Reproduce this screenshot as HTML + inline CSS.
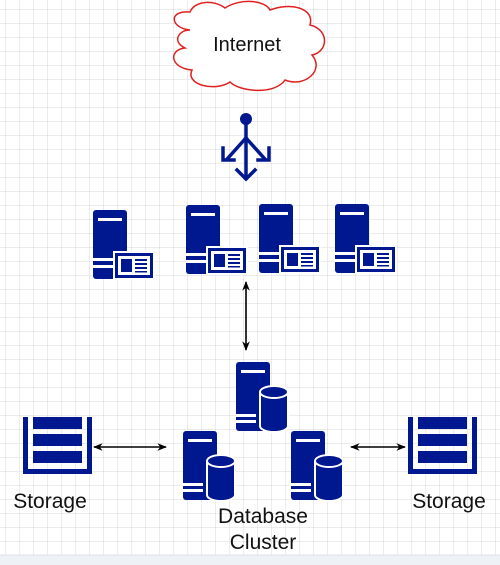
<!DOCTYPE html>
<html><head><style>
html,body{margin:0;padding:0;width:500px;height:565px;overflow:hidden;background:#fff}
svg{display:block}
text{font-family:"Liberation Sans",sans-serif;fill:#111}
</style></head><body>
<svg width="500" height="565" viewBox="0 0 500 565">
<defs>
<pattern id="g" width="14" height="14" patternUnits="userSpaceOnUse" x="6" y="10">
<path d="M14 0V14M0 14H14" fill="none" stroke="#d9d9d9" stroke-width="1"/>
</pattern>
<g id="web">
<rect x="0" y="0" width="34" height="69" rx="3" fill="#00188f"/>
<rect x="5" y="8" width="24" height="3" fill="#fff"/>
<rect x="0" y="48" width="22" height="3" fill="#fff"/>
<rect x="0" y="55" width="22" height="3" fill="#fff"/>
<rect x="20" y="41" width="42" height="29" fill="#fff"/>
<rect x="22" y="43" width="38" height="25" fill="#00188f"/>
<rect x="25" y="46" width="32" height="19" fill="#fff"/>
<rect x="28" y="49" width="11" height="13" fill="#00188f"/>
<rect x="42" y="49" width="12" height="2" fill="#00188f"/>
<rect x="42" y="53" width="12" height="2" fill="#00188f"/>
<rect x="42" y="57" width="12" height="2" fill="#00188f"/>
<rect x="42" y="61" width="12" height="1.5" fill="#00188f"/>
</g>
<g id="db">
<rect x="0" y="0" width="34" height="69" rx="3" fill="#00188f"/>
<rect x="5" y="8" width="24" height="3" fill="#fff"/>
<rect x="0" y="52" width="20" height="3" fill="#fff"/>
<rect x="0" y="58" width="20" height="3" fill="#fff"/>
<path d="M24 30 a14 6 0 0 1 28 0 v34 a14 6 0 0 1 -28 0z" fill="#00188f" stroke="#fff" stroke-width="2"/>
<path d="M24 30 a14 6 0 0 0 28 0" fill="none" stroke="#fff" stroke-width="2"/>
</g>
<g id="stor">
<rect x="0" y="0" width="5" height="57" fill="#00188f"/>
<rect x="64" y="0" width="5" height="57" fill="#00188f"/>
<rect x="0" y="52" width="69" height="5" fill="#00188f"/>
<rect x="10" y="0" width="49" height="12" fill="#00188f"/>
<rect x="10" y="17" width="49" height="12" fill="#00188f"/>
<rect x="10" y="34" width="49" height="12" fill="#00188f"/>
</g>
<marker id="ah" viewBox="0 0 10 10" refX="9" refY="5" markerWidth="6" markerHeight="6" orient="auto-start-reverse">
<path d="M0 1L10 5L0 9L3 5z" fill="#000"/>
</marker>
</defs>
<rect width="500" height="555" fill="url(#g)"/>
<rect y="555" width="500" height="10" fill="#eef2f7"/>
<line x1="0" y1="555" x2="500" y2="555" stroke="#dde3ea"/>
<path d="M190 30 C170 28 168 10 190 12 C195 0 215 0 225 8 C240 -2 265 0 270 10 C290 2 315 8 310 25 C330 30 328 52 312 55 C325 70 305 88 285 80 C275 95 240 92 230 82 C215 92 185 85 192 70 C170 68 168 50 185 48 C172 42 178 30 190 30Z" fill="#fff" stroke="#e02020" stroke-width="1.5"/>
<text x="247" y="51" font-size="20" text-anchor="middle">Internet</text>
<g stroke="#00188f" stroke-width="3.5" fill="none" stroke-linecap="square">
<line x1="246" y1="120" x2="246" y2="178"/>
<path d="M246 138 L228 158 M246 138 L264 158"/>
<path d="M223 148 V160 H234"/>
<path d="M269 148 V160 H258"/>
<path d="M237 170 L246 179 L255 170"/>
</g>
<circle cx="246" cy="119" r="6" fill="#00188f"/>
<use href="#web" x="93" y="210"/>
<use href="#web" x="186" y="205"/>
<use href="#web" x="259" y="204"/>
<use href="#web" x="335" y="204"/>
<line x1="246" y1="282" x2="246" y2="350" stroke="#000" stroke-width="1.6" marker-start="url(#ah)" marker-end="url(#ah)"/>
<use href="#db" x="236" y="362"/>
<use href="#db" x="183" y="431"/>
<use href="#db" x="291" y="431"/>
<use href="#stor" x="23" y="417"/>
<use href="#stor" x="408" y="417"/>
<line x1="94" y1="447" x2="166" y2="447" stroke="#000" stroke-width="1.6" marker-start="url(#ah)" marker-end="url(#ah)"/>
<line x1="351" y1="447" x2="405" y2="447" stroke="#000" stroke-width="1.6" marker-start="url(#ah)" marker-end="url(#ah)"/>
<text x="50" y="508" font-size="21" text-anchor="middle">Storage</text>
<text x="449" y="508" font-size="21" text-anchor="middle">Storage</text>
<text x="263" y="523" font-size="21" text-anchor="middle">Database</text>
<text x="263" y="549" font-size="21" text-anchor="middle">Cluster</text>
</svg>
</body></html>
